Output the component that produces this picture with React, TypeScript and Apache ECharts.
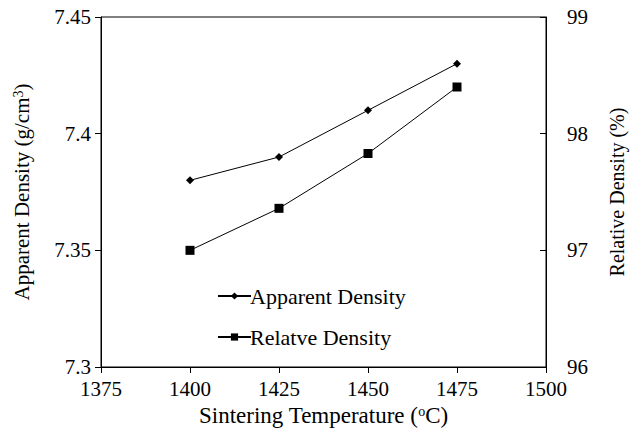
import React, { useEffect, useRef } from "react";
import * as echarts from "echarts";

const temperatures = [1400, 1425, 1450, 1475];
const apparentDensity = [7.38, 7.39, 7.41, 7.43];
const relativeDensity = [97.0, 97.36, 97.83, 98.4];
const seriesNames = ["Apparent Density", "Relatve Density"];

const FONT = "Liberation Serif";

export default function App() {
  const ref = useRef<HTMLDivElement>(null);
  useEffect(() => {
    document.body.style.margin = "0";
    if (!ref.current) return;
    const chart = echarts.init(ref.current, undefined, { renderer: "svg" });
    const sup = { fontSize: 14, verticalAlign: "top", fontFamily: FONT, color: "#000" };
    const base = { fontSize: 21, fontFamily: FONT, color: "#000" };
    const xBase = { fontSize: 23, fontFamily: FONT, color: "#000" };
    const rBase = { fontSize: 20, fontFamily: FONT, color: "#000" };
    chart.setOption({
      animation: false,
      textStyle: { fontFamily: FONT, color: "#000" },
      grid: { left: 101, right: 83, top: 17, bottom: 59, show: true, borderColor: "#000", borderWidth: 1 },
      legend: {
        orient: "vertical",
        left: 212,
        top: 280,
        itemWidth: 33,
        itemHeight: 9,
        itemGap: 19,
        textStyle: { fontSize: 22, fontFamily: FONT, color: "#000", padding: [0, 0, 0, -6] },
        data: seriesNames,
      },
      xAxis: {
        type: "value",
        min: 1375,
        max: 1500,
        interval: 25,
        name: "{a|Sintering Temperature (}{s|o}{a|C)}",
        nameLocation: "middle",
        nameGap: 37,
        nameTextStyle: { ...xBase, rich: { a: xBase, s: sup } },
        axisLine: { lineStyle: { color: "#000", width: 1 } },
        axisTick: { show: true, inside: false, length: 6, lineStyle: { color: "#000" } },
        axisLabel: { fontSize: 21, fontFamily: FONT, color: "#000", margin: 11, formatter: (v: number) => String(v) },
        splitLine: { show: false },
      },
      yAxis: [
        {
          type: "value",
          min: 7.3,
          max: 7.45,
          interval: 0.05,
          position: "left",
          name: "{a|Apparent Density (g/cm}{s|3}{a|)}",
          nameLocation: "middle",
          nameGap: 69,
          nameTextStyle: { ...base, rich: { a: base, s: sup } },
          axisLine: { show: true, lineStyle: { color: "#000", width: 1 } },
          axisTick: { show: true, inside: false, length: 6, lineStyle: { color: "#000" } },
          axisLabel: { fontSize: 21, fontFamily: FONT, color: "#000", margin: 10 },
          splitLine: { show: false },
        },
        {
          type: "value",
          min: 96,
          max: 99,
          interval: 1,
          position: "right",
          name: "Relative Density (%)",
          nameLocation: "middle",
          nameGap: 61,
          nameTextStyle: rBase,
          axisLine: { show: true, lineStyle: { color: "#000", width: 1 } },
          axisTick: { show: true, inside: true, length: 6, lineStyle: { color: "#000" } },
          axisLabel: { fontSize: 21, fontFamily: FONT, color: "#000", margin: 21 },
          splitLine: { show: false },
        },
      ],
      series: [
        {
          name: seriesNames[0],
          type: "line",
          yAxisIndex: 0,
          data: temperatures.map((t, i) => [t, apparentDensity[i]]),
          symbol: "diamond",
          symbolSize: 8,
          lineStyle: { color: "#000", width: 1 },
          itemStyle: { color: "#000" },
        },
        {
          name: seriesNames[1],
          type: "line",
          yAxisIndex: 1,
          data: temperatures.map((t, i) => [t, relativeDensity[i]]),
          symbol: "rect",
          symbolSize: 9,
          lineStyle: { color: "#000", width: 1 },
          itemStyle: { color: "#000" },
        },
      ],
    });
    return () => chart.dispose();
  }, []);
  return <div ref={ref} style={{ width: 635, height: 432 }} />;
}
